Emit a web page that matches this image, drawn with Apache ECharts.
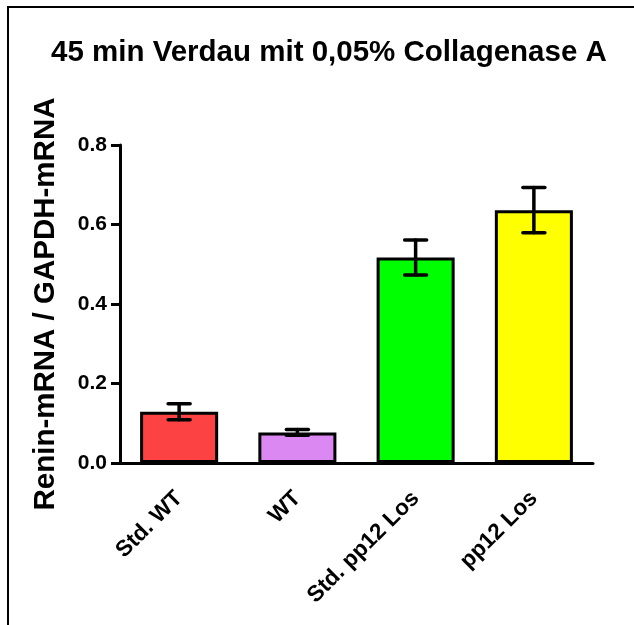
<!DOCTYPE html>
<html>
<head>
<meta charset="utf-8">
<script src="https://cdn.jsdelivr.net/npm/echarts@6/dist/echarts.min.js"></script>
<style>
html,body{margin:0;padding:0;background:#fff;}
#chart{width:634px;height:625px;}
</style>
</head>
<body>
<div id="chart"></div>
<script>
var categories = ['Std. WT', 'WT', 'Std. pp12 Los', 'pp12 Los'];
var means = [0.129, 0.077, 0.517, 0.636];
var errors = [0.020, 0.007, 0.044, 0.057];
var barColors = ['#FC4242', '#DB88F2', '#00FF00', '#FFFF00'];
var yTicks = [0, 0.2, 0.4, 0.6, 0.8];

var FONT = '"Liberation Sans", Arial, sans-serif';
var chart = echarts.init(document.getElementById('chart'), null, {renderer: 'canvas'});

var barData = means.map(function (v, i) {
  return {value: v, itemStyle: {color: barColors[i]}};
});
var errData = means.map(function (v, i) {
  return [i, v - errors[i], v + errors[i]];
});

chart.setOption({
  animation: false,
  backgroundColor: '#fff',
  title: {
    text: '45 min Verdau mit 0,05% Collagenase A',
    left: 46,
    top: 33,
    textStyle: {fontFamily: FONT, fontSize: 29.5, fontWeight: 'bold', color: '#000'}
  },
  graphic: [
    {type: 'polyline', shape: {points: [[8, 625], [8, 7], [634, 7]]},
     style: {stroke: '#000', lineWidth: 2, fill: null}, silent: true}
  ],
  grid: {left: 120, right: 41, top: 145, bottom: 162},
  xAxis: {
    type: 'category',
    data: categories,
    axisLine: {lineStyle: {color: '#000', width: 3}},
    axisTick: {alignWithLabel: true, length: 9, lineStyle: {color: '#000', width: 3}},
    axisLabel: {rotate: 45, margin: 32, fontFamily: FONT, fontSize: 22.5, fontWeight: 'bold', color: '#000'}
  },
  yAxis: {
    type: 'value',
    min: yTicks[0],
    max: yTicks[yTicks.length - 1],
    interval: 0.2,
    name: 'Renin-mRNA / GAPDH-mRNA',
    nameLocation: 'middle',
    nameGap: 59,
    nameTextStyle: {fontFamily: FONT, fontSize: 29.5, fontWeight: 'bold', color: '#000'},
    axisLine: {show: true, lineStyle: {color: '#000', width: 3}},
    axisTick: {show: true, length: 9, lineStyle: {color: '#000', width: 3}},
    axisLabel: {margin: 13, fontFamily: FONT, fontSize: 21, fontWeight: 'bold', color: '#000',
      formatter: function (v) { return v.toFixed(1); }},
    splitLine: {show: false}
  },
  series: [
    {
      type: 'bar',
      data: barData,
      barWidth: '66%',
      itemStyle: {borderColor: '#000', borderWidth: 3},
      z: 2
    },
    {
      type: 'custom',
      data: errData,
      z: 3,
      renderItem: function (params, api) {
        var lo = api.coord([api.value(0), api.value(1)]);
        var hi = api.coord([api.value(0), api.value(2)]);
        var hw = 11;
        var st = {stroke: '#000', lineWidth: 3.5, lineCap: 'round'};
        return {
          type: 'group',
          children: [
            {type: 'line', shape: {x1: hi[0], y1: hi[1], x2: lo[0], y2: lo[1]}, style: st},
            {type: 'line', shape: {x1: hi[0] - hw, y1: hi[1], x2: hi[0] + hw, y2: hi[1]}, style: st},
            {type: 'line', shape: {x1: lo[0] - hw, y1: lo[1], x2: lo[0] + hw, y2: lo[1]}, style: st}
          ]
        };
      }
    }
  ]
});
</script>
</body>
</html>
